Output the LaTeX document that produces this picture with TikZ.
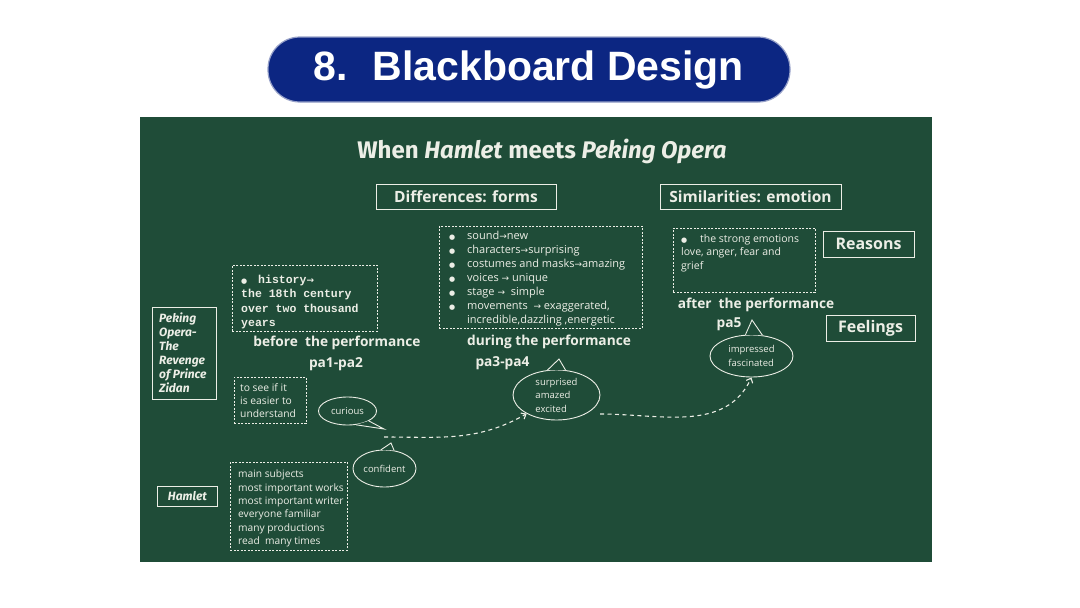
\documentclass[tikz,border=0pt]{standalone}
\usepackage{fontspec}
\setmainfont{Open Sans}
\setmonofont{Liberation Mono}
\newfontfamily\pillfont{Liberation Sans}
\newfontfamily\chalkfont{Fira Sans}
\newfontfamily\symfont{DejaVu Sans}
\usepackage{xcolor}
\usetikzlibrary{shapes.geometric,arrows.meta,positioning}
\definecolor{board}{RGB}{31,76,56}
\definecolor{chalk}{RGB}{236,238,230}
\definecolor{pillblue}{RGB}{12,38,130}
\definecolor{pilledge}{RGB}{150,160,200}
\newcommand{\chalkarrow}{{\symfont\fontsize{9}{10}\selectfont →}}
\newcommand{\chalkdot}[1]{\makebox[#1][l]{{\symfont\fontsize{7}{7}\selectfont ●}}}
\tikzset{
  pill/.style={rectangle, rounded corners=32pt, fill=pillblue, draw=pilledge,
               line width=1.2pt, text=white, inner sep=0pt,
               font=\pillfont\bfseries\fontsize{41}{44}\selectfont},
  headbox/.style={rectangle, draw=chalk, line width=0.9pt, text=chalk,
                  inner sep=0pt, minimum height=25pt,
                  font=\bfseries\fontsize{15.5}{17}\selectfont},
  notebox/.style={rectangle, draw=chalk, line width=0.8pt,
                  dash pattern=on 2pt off 1.5pt, inner sep=0pt, anchor=north west},
  framebox/.style={rectangle, draw=chalk, line width=0.9pt, inner sep=0pt,
                   anchor=north west},
  notetext/.style={text=chalk, align=left, inner sep=0pt, anchor=north west,
                   font=\fontsize{11}{14}\selectfont},
  stagetext/.style={text=chalk, inner sep=0pt,
                    font=\bfseries\fontsize{13.7}{15}\selectfont},
  bubble/.style={ellipse, draw=chalk, line width=0.9pt, fill=board, text=chalk,
                 align=left, inner sep=0pt, font=\fontsize{9.5}{13.5}\selectfont},
  tail/.style={draw=chalk, line width=0.9pt, line join=miter},
  flow/.style={chalk, line width=1.1pt, dash pattern=on 4pt off 3.5pt,
               -{Straight Barb[length=4pt,width=7pt]}},
}
\begin{document}
\begin{tikzpicture}[x=1pt,y=-1pt]
  \useasboundingbox (0,0) rectangle (1080,608);
  \fill[white] (0,0) rectangle (1080,608);
  \node[pill, minimum width=522, minimum height=65] (pill) at (529,69.5)
    {8.\hspace{0.6em}Blackboard Design};
  \fill[board] (140,117) rectangle (932,562);

  % heading and the two halves
  \node[text=chalk, font=\chalkfont\bfseries\fontsize{24}{26}\selectfont] (title) at (542,151)
    {When \textit{Hamlet} meets \textit{Peking Opera}};
  \node[headbox, minimum width=180] (diff) at (466,196.5) {Differences: forms};
  \node[headbox, minimum width=181] (sim) at (750.5,196.5) {Similarities: emotion};
  \node[headbox, minimum width=91, minimum height=26, font=\bfseries\fontsize{16}{18}\selectfont]
    (reasons) at (868.5,244) {Reasons};
  \node[headbox, minimum width=89, minimum height=26, font=\bfseries\fontsize{16}{18}\selectfont]
    (feelings) at (870.5,328) {Feelings};

  % forms
  \node[notebox, minimum width=203, minimum height=102] (formsbox) at (439,226) {};
  \node[notetext, below right=5pt and 10pt of formsbox.north west] (formstext)
    {\chalkdot{18pt}sound\chalkarrow new\\
     \chalkdot{18pt}characters\chalkarrow surprising\\
     \chalkdot{18pt}costumes and masks\chalkarrow amazing\\
     \chalkdot{18pt}voices \chalkarrow{} unique\\
     \chalkdot{18pt}stage \chalkarrow{} \ simple\\
     \chalkdot{18pt}movements \ \chalkarrow{} exaggerated,\\
     \hspace{18pt}incredible,dazzling ,energetic};

  % emotion
  \node[notebox, minimum width=142, minimum height=64] (emobox) at (673,228) {};
  \node[notetext, font=\fontsize{10.5}{13.5}\selectfont, below right=6pt and 8pt of emobox.north west]
    (emotext) {\chalkdot{19pt}the strong emotions\\ love, anger, fear and\\ grief};

  % before
  \node[notebox, minimum width=145, minimum height=66] (histbox) at (232,265) {};
  \node[notetext, font=\ttfamily\bfseries\fontsize{11.5}{14.3}\selectfont,
        below right=10pt and 9pt of histbox.north west] (histtext)
    {\chalkdot{17pt}history\chalkarrow\\ the 18th century\\ over two thousand\\ years};
  \node[stagetext] (before) at (337,343) {before\ \ the performance};
  \node[stagetext] (pab) at (336,364) {pa1-pa2};

  % during
  \node[stagetext] (during) at (549,342) {during the performance};
  \node[stagetext] (pad) at (502.5,363) {pa3-pa4};

  % after
  \node[stagetext] (after) at (756,305) {after\ \ the performance};
  \node[stagetext] (paa) at (729,324) {pa5};

  % left column
  \node[framebox, minimum width=64, minimum height=92] (pekingbox) at (152,307) {};
  \node[notetext, font=\chalkfont\bfseries\itshape\fontsize{12}{14}\selectfont,
        below right=6pt and 7pt of pekingbox.north west] (pekingtext)
    {Peking\\ Opera-\\ The\\ Revenge\\ of Prince\\ Zidan};
  \node[framebox, minimum width=60, minimum height=20] (hamletbox) at (157,486) {};
  \node[text=chalk, inner sep=0pt, font=\chalkfont\bfseries\itshape\fontsize{12}{12}\selectfont]
    (hamlettext) at (hamletbox.center) {Hamlet};

  \node[notebox, minimum width=72, minimum height=46] (seebox) at (234,377) {};
  \node[notetext, font=\fontsize{10.3}{13}\selectfont, below right=6pt and 6pt of seebox.north west]
    (seetext) {to see if it\\ is easier to\\ understand};
  \node[notebox, minimum width=117, minimum height=88] (worksbox) at (230,462) {};
  \node[notetext, font=\fontsize{10.2}{13.3}\selectfont, below right=8pt and 8pt of worksbox.north west]
    (workstext) {main subjects\\ most important works\\ most important writer\\
                 everyone familiar\\ many productions\\ read \ many times};

  % feelings
  \node[bubble, minimum width=58, minimum height=28] (curious) at (347.5,411) {curious};
  \coordinate (curtip) at (384,429);
  \fill[board] (curious.-25) -- (curtip) -- (curious.-58) -- cycle;
  \draw[tail] (curious.-25) -- (curtip) -- (curious.-58);

  \node[bubble, minimum width=63, minimum height=37] (confident) at (384.5,468.5) {confident};
  \coordinate (conftip) at (391,443);
  \fill[board] (confident.100) -- (conftip) -- (confident.62) -- cycle;
  \draw[tail] (confident.100) -- (conftip) -- (confident.62);

  \node[bubble, minimum width=87, minimum height=50] (surprised) at (556.5,395)
    {surprised\\ amazed\\ excited};
  \coordinate (surptip) at (559,359);
  \fill[board] (surprised.110) -- (surptip) -- (surprised.70) -- cycle;
  \draw[tail] (surprised.110) -- (surptip) -- (surprised.70);

  \node[bubble, minimum width=83, minimum height=42] (impressed) at (751.5,356)
    {impressed\\ fascinated};
  \coordinate (imptip) at (752,320);
  \fill[board] (impressed.106) -- (imptip) -- (impressed.62) -- cycle;
  \draw[tail] (impressed.106) -- (imptip) -- (impressed.62);

  \coordinate (flowa) at (384,437);
  \coordinate (flowb) at (600,414);
  \draw[flow] (flowa) to[out=0, in=210] (surprised.212);
  \draw[flow] (flowb) to[out=0, in=245] (impressed.270);
\end{tikzpicture}
\end{document}
